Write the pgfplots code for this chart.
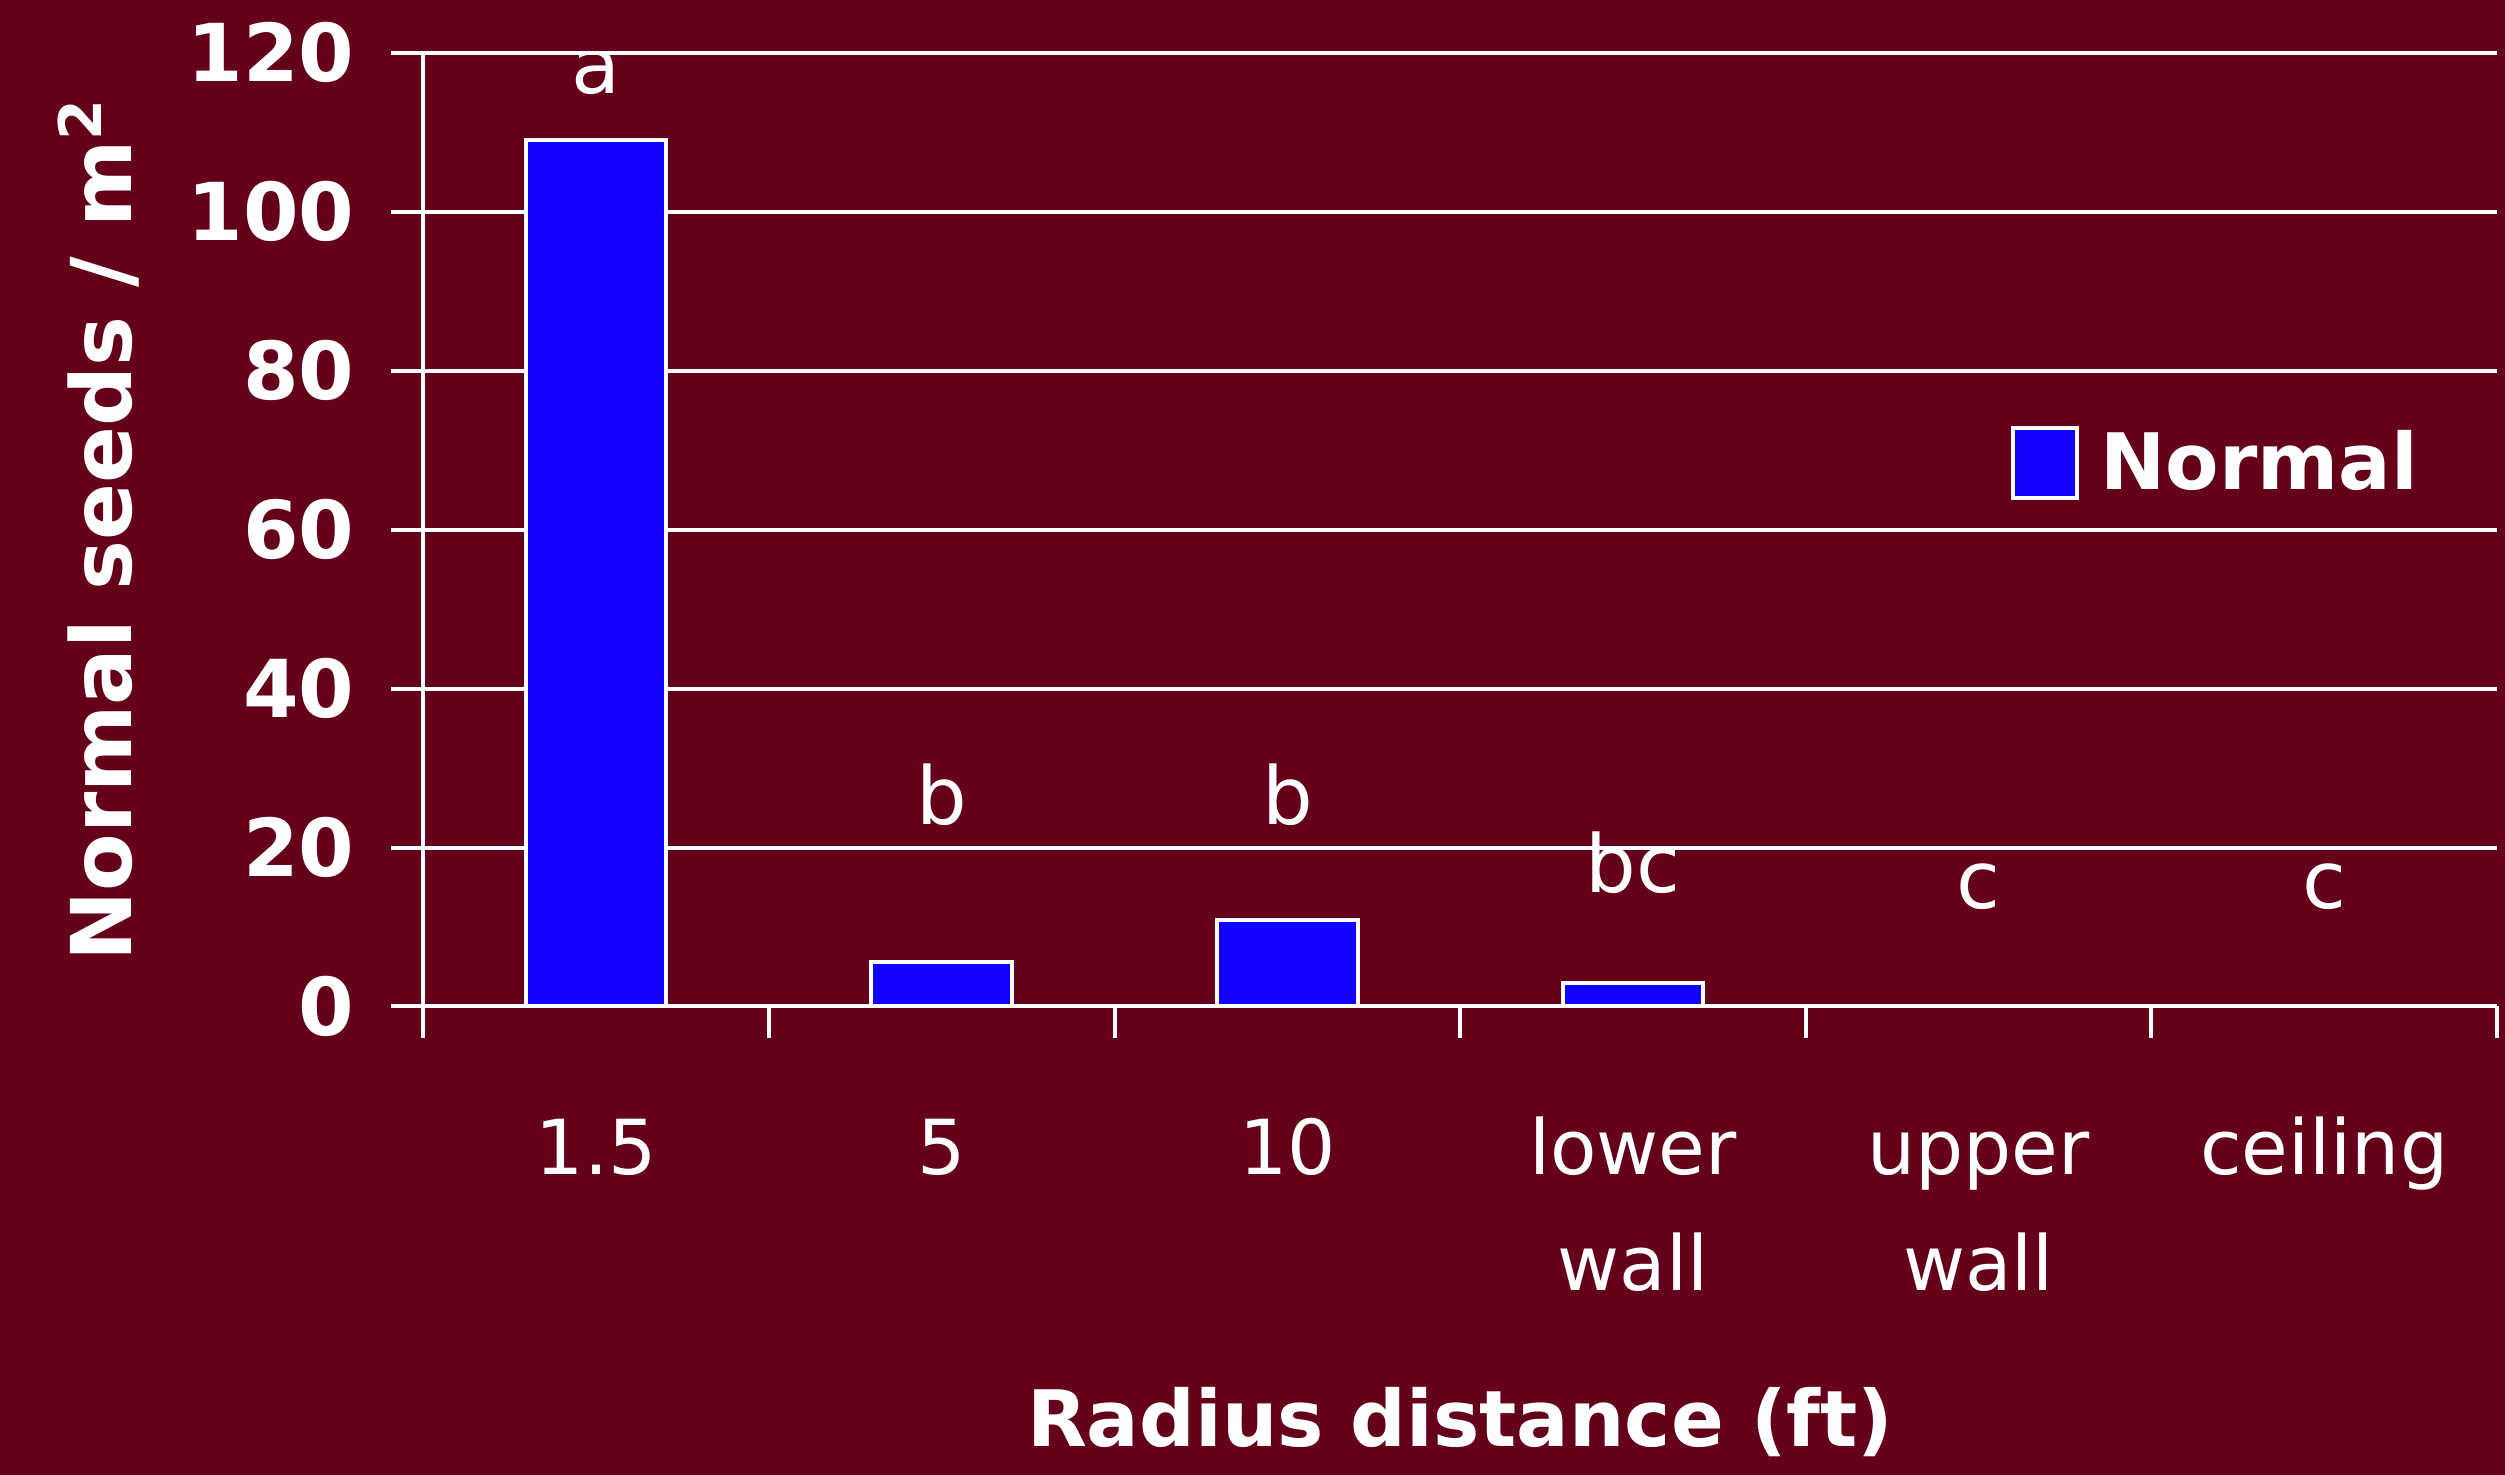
\documentclass[border=0pt]{standalone}
\usepackage{fontspec}
\setmainfont{DejaVu Sans}
\usepackage{pgfplots}
\pgfplotsset{compat=1.18}
\definecolor{bgmaroon}{RGB}{101,0,26}
\definecolor{barblue}{RGB}{20,0,255}
\pgfplotsset{boxlegend/.style={legend image code/.code={%
    \draw[##1, line width=1pt] (0pt,-8.8pt) rectangle (16pt,8.8pt);}}}
\begin{document}
\begin{tikzpicture}
% background panel (sets the page size)
\useasboundingbox (-106pt,-117.2pt) rectangle (521.2pt,252pt);
\fill[bgmaroon] (-106pt,-117.2pt) rectangle (521.2pt,252pt);
\begin{axis}[
    width=519.2pt, height=238.8pt, scale only axis,
    xmin=-0.5, xmax=5.5, ymin=0, ymax=120,
    ytick={0,20,...,120},
    xtick={0,...,5},
    xticklabels={\strut 1.5,\strut 5,\strut 10,{\strut lower\\wall},{\strut upper\\wall},\strut ceiling},
    minor xtick={-0.5,0.5,...,5.5},
    axis lines*=left,
    axis line style={white, line width=1pt},
    tick align=outside,
    major tick length=8pt, minor tick length=8pt,
    major x tick style={draw=none},
    minor x tick style={white, line width=1pt},
    ytick style={white, line width=1pt},
    ymajorgrids, grid style={white, line width=1pt},
    /pgf/number format/assume math mode=true,
    tick label style={text=white},
    xticklabel style={font=\fontsize{19}{29.2}\selectfont, align=center, anchor=north, yshift=-10pt},
    yticklabel style={font=\bfseries\fontsize{20}{24}\selectfont, xshift=-5.7pt},
    xlabel={Radius distance (ft)},
    xlabel style={at={(axis description cs:0.5,-0.4355)}, anchor=center,
        text=white, font=\bfseries\fontsize{19.5}{23}\selectfont},
    ylabel={Normal seeds / m\textsuperscript{2}},
    ylabel style={at={(axis description cs:-0.1564,0.5)}, anchor=center,
        text=white, font=\bfseries\fontsize{21}{25}\selectfont},
    legend style={at={(axis description cs:0.7651,0.5695)}, anchor=west,
        draw=none, fill=none, inner sep=0pt, text=white,
        font=\bfseries\fontsize{19.5}{23}\selectfont},
]
\addplot[ybar, bar width=35.2pt, fill=barblue, draw=white, line width=1pt, boxlegend]
    coordinates {(0,109) (1,5.6) (2,10.9) (3,3.0) (4,0) (5,0)};
\addlegendentry{\hspace{3.5pt}Normal}
\begin{scope}[every node/.style={text=white, font=\fontsize{20}{24}\selectfont}]
\node at (axis cs:0,117.6) {a};
\node at (axis cs:1,26.7) {b};
\node at (axis cs:2,26.7) {b};
\node at (axis cs:3,18.1) {bc};
\node at (axis cs:4,15.1) {c};
\node at (axis cs:5,15.1) {c};
\end{scope}
\end{axis}
\end{tikzpicture}
\end{document}
